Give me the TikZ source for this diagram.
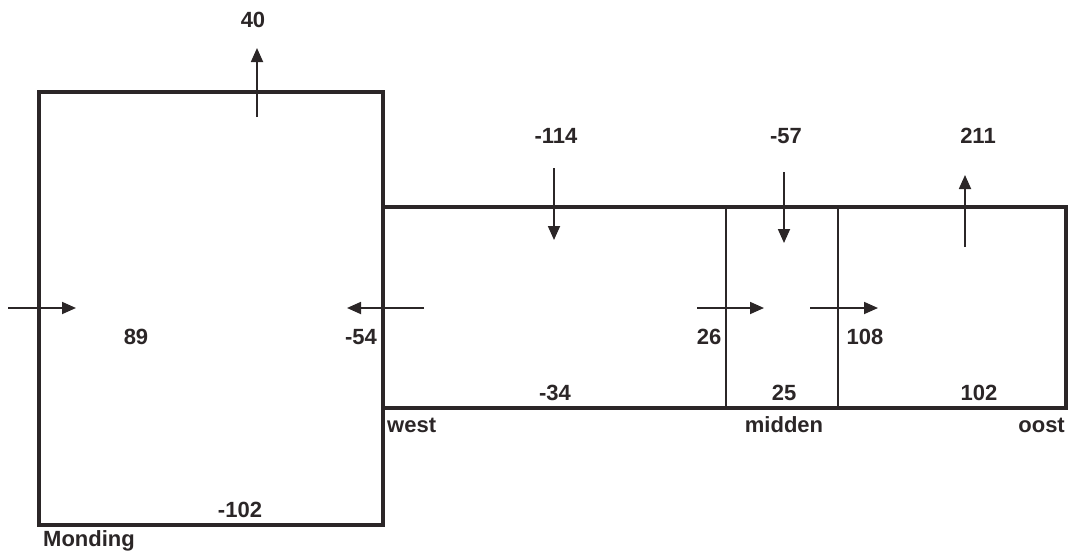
\documentclass[tikz,border=0pt]{standalone}
\usepackage{fontspec}
\setmainfont{Liberation Sans}
\usetikzlibrary{arrows.meta}
\definecolor{ink}{HTML}{2B2627}

\begin{document}
\begin{tikzpicture}[x=1pt,y=-1pt,
		wall/.style={draw=ink, line width=4.5pt, line join=miter},
		divider/.style={draw=ink, line width=1.8pt},
		flux/.style={draw=ink, line width=1.8pt, -{Triangle[length=14pt,width=12pt]}},
		val/.style={text=ink, inner sep=0pt, font=\bfseries\fontsize{22}{25}\selectfont}]
		\useasboundingbox (0,0) rectangle (1069,554);
		
		\draw[wall] (39,92) rectangle (383,525);
		\draw[wall] (383,207) -- (1066,207) -- (1066,408) -- (383,408);
		\draw[divider] (726,207) -- (726,408);
		\draw[divider] (838,207) -- (838,408);
		
		\coordinate (top0) at (257,117);  \coordinate (top1) at (257,48);
		\coordinate (left0) at (8,308);   \coordinate (left1) at (76,308);
		\coordinate (back0) at (424,308); \coordinate (back1) at (347,308);
		\coordinate (west0) at (554,168); \coordinate (west1) at (554,240);
		\coordinate (mid0) at (784,172);  \coordinate (mid1) at (784,243);
		\coordinate (oost0) at (965,247); \coordinate (oost1) at (965,175);
		\coordinate (wm0) at (697,308);   \coordinate (wm1) at (764,308);
		\coordinate (mo0) at (810,308);   \coordinate (mo1) at (878,308);
		
		\draw[flux] (top0) -- (top1);
		\draw[flux] (left0) -- (left1);
		\draw[flux] (back0) -- (back1);
		\draw[flux] (west0) -- (west1);
		\draw[flux] (mid0) -- (mid1);
		\draw[flux] (oost0) -- (oost1);
		\draw[flux] (wm0) -- (wm1);
		\draw[flux] (mo0) -- (mo1);
		
		\node[val] (v40) at (253,20) {40};
		\node[val] (v89) at (136,337) {89};
		\node[val] (v54) at (361,337) {-54};
		\node[val] (v102m) at (240,510) {-102};
		\node[val, anchor=base west] (monding) at (43,546) {Monding};
		\node[val] (v114) at (556,136) {-114};
		\node[val] (v57) at (786,136) {-57};
		\node[val] (v211) at (978,136) {211};
		\node[val] (v26) at (709,337) {26};
		\node[val] (v108) at (865,337) {108};
		\node[val] (v34) at (555,393) {-34};
		\node[val] (v25) at (784,393) {25};
		\node[val] (v102o) at (979,393) {102};
		\node[val, anchor=base west] (west) at (387,432) {west};
		\node[val, anchor=base] (midden) at (784,432) {midden};
		\node[val, anchor=base east] (oost) at (1065,432) {oost};
		
\end{tikzpicture}
\end{document}
